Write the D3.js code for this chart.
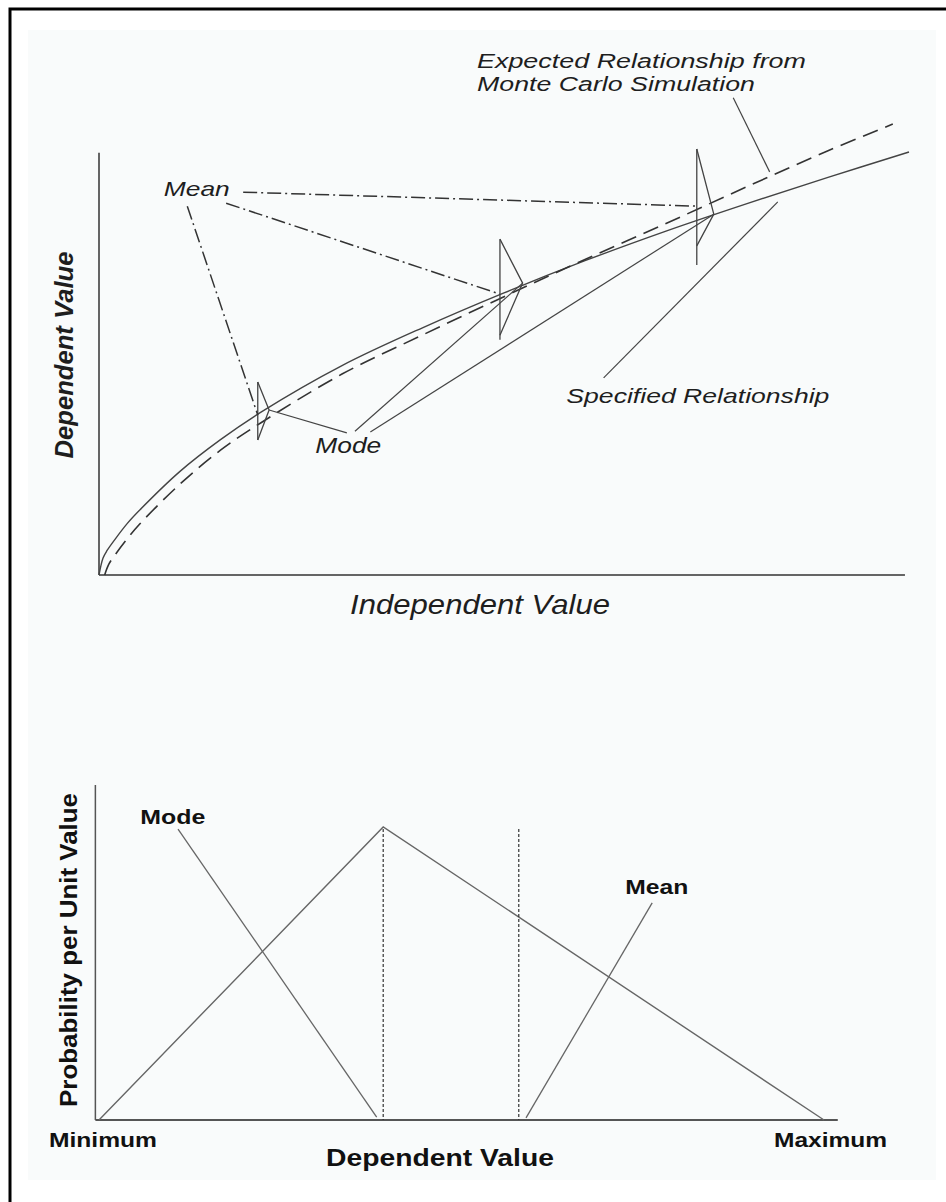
<!DOCTYPE html>
<html>
<head>
<meta charset="utf-8">
<script src="https://cdn.jsdelivr.net/npm/d3@7"></script>
<style>
body { margin: 0; background: #fff; }
svg { display: block; }
text { font-family: "Liberation Sans", Arial, sans-serif; fill: #1e1e1e; }
</style>
</head>
<body>
<svg id="chart" width="946" height="1202"></svg>
<script>
// ---- top panel (both axes in 0-100 units) ----
var specX = [0, 0.5, 1, 2, 3.5, 5, 10, 15, 20, 30, 40, 50, 60, 70, 80, 90, 100];
var specY = [0, 4, 5.8, 8.5, 12.2, 15.3, 24.5, 32, 38.5, 49.5, 58.5, 66.7, 74.3, 81.3, 87.8, 94, 100];
var expX = [0.7, 1.2, 2, 3.5, 5, 10, 15, 20, 30, 40, 50, 60, 70, 80, 90, 98];
var expY = [0, 2.5, 4.8, 8.6, 12, 21.5, 29.5, 36, 47.5, 56.8, 65.8, 74.6, 83.1, 91.8, 100.3, 106.6];

// the three little triangular distributions
var distX    = [19.6, 49.5, 73.8];
var distTop  = [45.6, 79.4, 100.7];
var distLow  = [31.9, 56.7, 77.8];
var lineLow  = [31.9, 55.6, 73.3];
var distMode = [39.0, 69.0, 85.3];
var distPeak = [1.4, 2.8, 2.1];
var distMean = [37.8, 66.4, 87.2];

// leader lines start points (label ends)
var meanFromX = [10.9, 15.7, 17.8];
var meanFromY = [87.2, 87.9, 90.5];
var modeFromX = [30.6, 31.6, 33.5];
var modeFromY = [33.6, 34.0, 33.8];

// ---- bottom panel: triangular distribution ----
var triX = [0, 39.2, 100];
var triY = [0, 100, 0];
var modeValue = 39.2;
var meanValue = 57.9;
var endLabels = ["Minimum", "Maximum"];

var svg = d3.select("#chart");

// scanned page look
svg.append("rect").attr("x", 28).attr("y", 30).attr("width", 908).attr("height", 1150)
    .attr("fill", "#f9fbfb");
svg.append("path").attr("d", "M10,1202 V9 H946")
    .attr("fill", "none").attr("stroke", "#000").attr("stroke-width", 3);

var x = d3.scaleLinear().domain([0, 100]).range([99, 909]),
    y = d3.scaleLinear().domain([0, 100]).range([575, 152]);

var gTop = svg.append("g");

gTop.append("line")
    .attr("x1", x(0)).attr("x2", x(99.5)).attr("y1", y(0)).attr("y2", y(0))
    .style("stroke", "#333").style("stroke-width", "1.5px");
gTop.append("line")
    .attr("x1", x(0)).attr("x2", x(0)).attr("y1", y(0)).attr("y2", y(99.8))
    .style("stroke", "#333").style("stroke-width", "1.5px");

var line = d3.line()
    .x(function(d) { return x(d[0]); })
    .y(function(d) { return y(d[1]); })
    .curve(d3.curveCatmullRom.alpha(0.5));

var spec = specX.map(function(v, i) { return [v, specY[i]]; });
var expd = expX.map(function(v, i) { return [v, expY[i]]; });

gTop.append("path").attr("d", line(spec))
    .attr("fill", "none").style("stroke", "#444").style("stroke-width", "1.4px");
gTop.append("path").attr("d", line(expd))
    .attr("fill", "none").style("stroke", "#333").style("stroke-width", "1.6px")
    .style("stroke-dasharray", "16,8");

var dists = distX.map(function(v, i) {
  return {x: v, top: distTop[i], low: distLow[i], lineLow: lineLow[i],
          mode: distMode[i], peak: distPeak[i], mean: distMean[i],
          mfx: meanFromX[i], mfy: meanFromY[i], ofx: modeFromX[i], ofy: modeFromY[i]};
});

gTop.selectAll(".dist-v")
    .data(dists)
    .enter().append("line")
      .attr("class", "dist-v")
      .attr("x1", function(d) { return x(d.x); })
      .attr("x2", function(d) { return x(d.x); })
      .attr("y1", function(d) { return y(d.top); })
      .attr("y2", function(d) { return y(d.lineLow); })
      .style("stroke", "#444").style("stroke-width", "1.3px");

gTop.selectAll(".dist-tri")
    .data(dists)
    .enter().append("path")
      .attr("class", "dist-tri")
      .attr("d", function(d) {
        return "M" + x(d.x) + "," + y(d.top) +
               "L" + x(d.x + d.peak) + "," + y(d.mode) +
               "L" + x(d.x) + "," + y(d.low);
      })
      .attr("fill", "none").style("stroke", "#444").style("stroke-width", "1.3px");

// Mean leaders (dash-dot) and Mode leaders (solid)
gTop.selectAll(".mean-lead")
    .data(dists)
    .enter().append("line")
      .attr("class", "mean-lead")
      .attr("x1", function(d) { return x(d.mfx); })
      .attr("y1", function(d) { return y(d.mfy); })
      .attr("x2", function(d) { return x(d.x); })
      .attr("y2", function(d) { return y(d.mean); })
      .style("stroke", "#333").style("stroke-width", "1.5px")
      .style("stroke-dasharray", "14,4,2,4");

gTop.selectAll(".mode-lead")
    .data(dists)
    .enter().append("line")
      .attr("class", "mode-lead")
      .attr("x1", function(d) { return x(d.ofx); })
      .attr("y1", function(d) { return y(d.ofy); })
      .attr("x2", function(d) { return x(d.x + d.peak); })
      .attr("y2", function(d) { return y(d.mode); })
      .style("stroke", "#444").style("stroke-width", "1.2px");

// other leaders
gTop.append("line")
    .attr("x1", x(78.3)).attr("y1", y(112.8)).attr("x2", x(82.8)).attr("y2", y(95.3))
    .style("stroke", "#444").style("stroke-width", "1.2px");
gTop.append("line")
    .attr("x1", x(83.8)).attr("y1", y(88.2)).attr("x2", x(62.3)).attr("y2", y(46.6))
    .style("stroke", "#444").style("stroke-width", "1.2px");

function label(parent, txt, px, py, size, len, style, weight) {
  return parent.append("text")
      .attr("x", px).attr("y", py)
      .attr("textLength", len).attr("lengthAdjust", "spacingAndGlyphs")
      .style("font-size", size + "px")
      .style("font-style", style)
      .style("font-weight", weight)
      .text(txt);
}

label(gTop, "Mean", x(8.0), y(89.6), 21, 66, "italic", "normal");
label(gTop, "Mode", x(26.7), y(28.8), 22, 66, "italic", "normal");
label(gTop, "Specified Relationship", x(57.7), y(40.7), 21, 263, "italic", "normal");
label(gTop, "Expected Relationship from", 477, 68, 20, 329, "italic", "normal");
label(gTop, "Monte Carlo Simulation", 477, 91, 20, 278, "italic", "normal");
label(gTop, "Independent Value", 350, 614, 28, 260, "italic", "normal");

gTop.append("text")
    .attr("transform", "translate(73," + y(52) + ") rotate(-90)")
    .attr("text-anchor", "middle")
    .attr("textLength", 207).attr("lengthAdjust", "spacingAndGlyphs")
    .style("font-size", "25px").style("font-style", "italic").style("font-weight", "bold")
    .text("Dependent Value");

// ---- bottom panel ----
var xb = d3.scaleLinear().domain([0, 100]).range([99, 824]),
    yb = d3.scaleLinear().domain([0, 100]).range([1120, 827]);

var bot = svg.append("g");

bot.append("line")
    .attr("x1", xb(-0.5)).attr("x2", xb(101.9)).attr("y1", yb(0)).attr("y2", yb(0))
    .style("stroke", "#555").style("stroke-width", "2px");
bot.append("line")
    .attr("x1", xb(-0.5)).attr("x2", xb(-0.5)).attr("y1", yb(0)).attr("y2", yb(114.3))
    .style("stroke", "#555").style("stroke-width", "1.5px");

var tri = triX.map(function(v, i) { return [v, triY[i]]; });
bot.append("path")
    .attr("d", d3.line().x(function(d) { return xb(d[0]); }).y(function(d) { return yb(d[1]); })(tri))
    .attr("fill", "none").style("stroke", "#666").style("stroke-width", "1.4px");

bot.selectAll(".vline")
    .data([modeValue, meanValue])
    .enter().append("line")
      .attr("class", "vline")
      .attr("x1", function(d) { return xb(d); })
      .attr("x2", function(d) { return xb(d); })
      .attr("y1", yb(99.3))
      .attr("y2", yb(0))
      .style("stroke", "#333").style("stroke-width", "1.2px")
      .style("stroke-dasharray", "3,2");

bot.append("line")
    .attr("x1", xb(10.9)).attr("y1", yb(99.3)).attr("x2", xb(modeValue - 0.9)).attr("y2", yb(1))
    .style("stroke", "#666").style("stroke-width", "1.3px");
bot.append("line")
    .attr("x1", xb(76.3)).attr("y1", yb(74.1)).attr("x2", xb(meanValue + 1.0)).attr("y2", yb(0.7))
    .style("stroke", "#666").style("stroke-width", "1.3px");

function blabel(txt, px, py, len, size) {
  return bot.append("text")
      .attr("x", px).attr("y", py)
      .attr("textLength", len).attr("lengthAdjust", "spacingAndGlyphs")
      .style("font-family", "'Liberation Sans Narrow', 'Liberation Sans', Arial, sans-serif")
      .style("font-size", size + "px").style("font-weight", "bold")
      .style("fill", "#111")
      .text(txt);
}

blabel("Mode", xb(5.7), yb(101), 65, 21);
blabel("Mean", xb(72.6), yb(77.1), 63, 21);
blabel(endLabels[0], 49, 1147, 108, 21);
blabel(endLabels[1], 774, 1147, 113, 21);
blabel("Dependent Value", 326, 1166, 228, 24);

bot.append("text")
    .attr("transform", "translate(77,950) rotate(-90)")
    .attr("text-anchor", "middle")
    .attr("textLength", 314).attr("lengthAdjust", "spacingAndGlyphs")
    .style("font-size", "24px").style("font-weight", "bold").style("fill", "#111")
    .text("Probability per Unit Value");
</script>
</body>
</html>
